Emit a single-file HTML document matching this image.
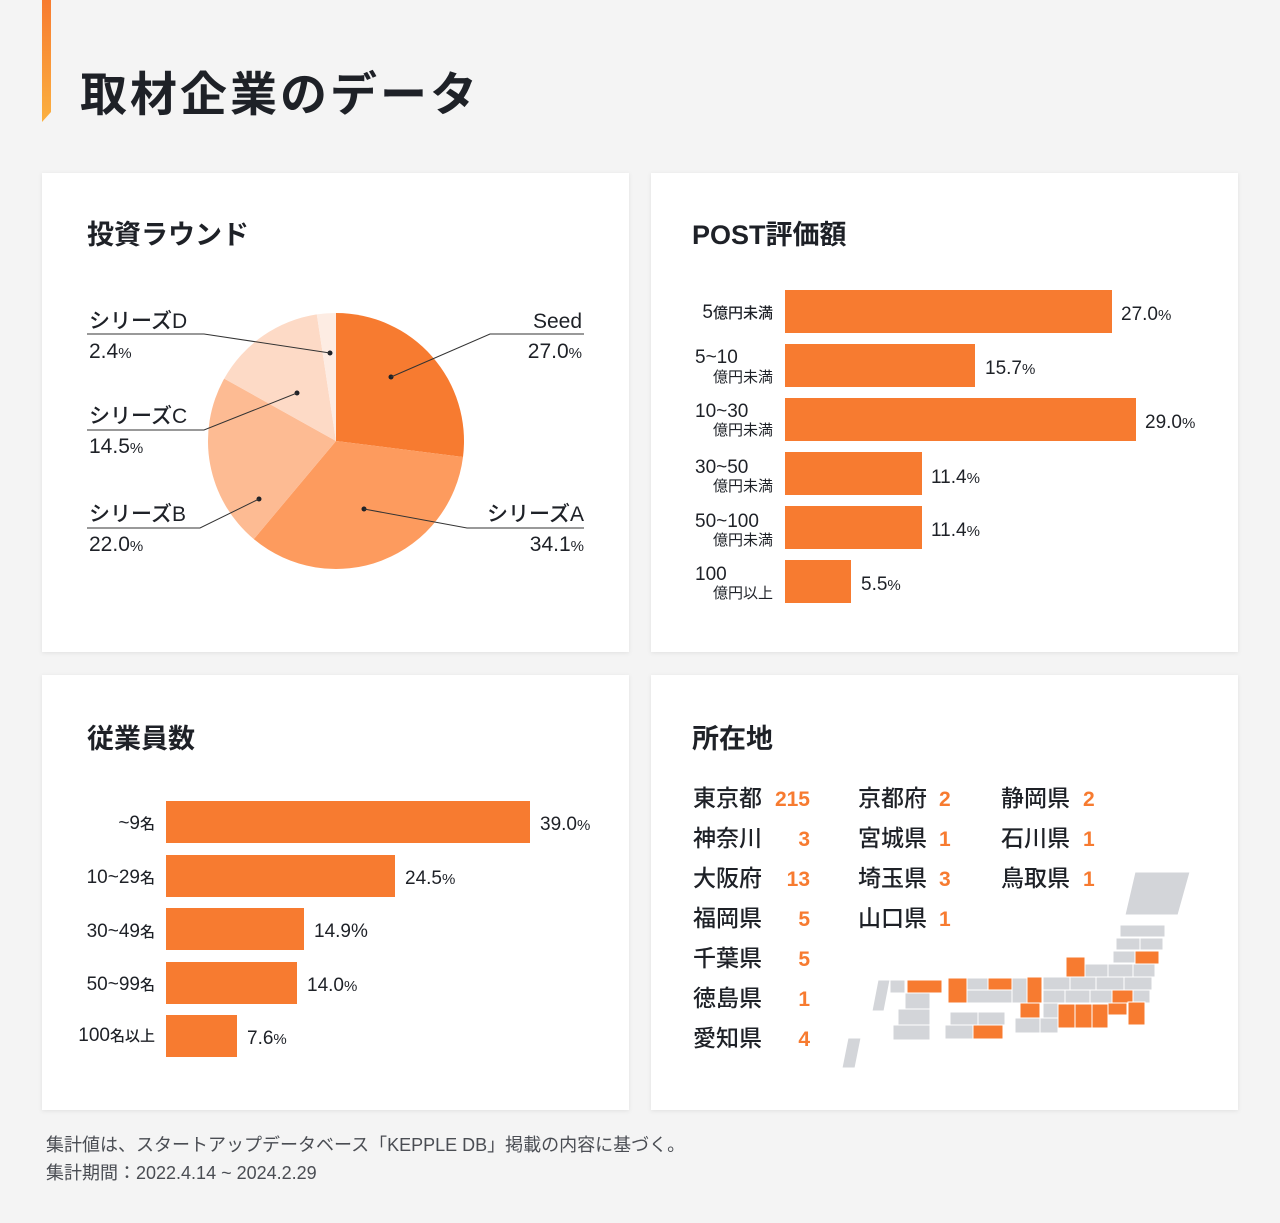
<!DOCTYPE html>
<html><head><meta charset="utf-8"><style>
html,body{margin:0;padding:0;background:#f4f4f4;}
svg{display:block;}
text{font-family:"Liberation Sans","Noto Sans CJK JP",sans-serif;fill:#1e2127;}
.t{font-size:27px;font-weight:700;}
.lb{font-size:19px;font-weight:500;}
.n{font-size:19px;font-weight:500;}
.s{font-size:15px;}
.pl{font-size:21px;font-weight:500;}
.ln{stroke:#333;stroke-width:1;fill:none;}
.gn{fill:#f77b30;font-size:21px;font-weight:700;}
.pn{font-size:23px;font-weight:500;}
</style></head><body>
<svg width="1280" height="1223" viewBox="0 0 1280 1223" xmlns="http://www.w3.org/2000/svg">
<defs>
<linearGradient id="og" x1="0" y1="0" x2="0" y2="1"><stop offset="0" stop-color="#f77b30"/><stop offset="1" stop-color="#fbb040"/></linearGradient>
<filter id="sh" x="-5%" y="-5%" width="110%" height="110%"><feDropShadow dx="0" dy="1" stdDeviation="2" flood-color="#000" flood-opacity="0.08"/></filter>
</defs>
<rect width="1280" height="1223" fill="#f4f4f4"/>
<polygon points="42,0 51,0 51,112 42,122" fill="url(#og)"/>
<text x="80" y="111" style="font-size:47px;font-weight:700;letter-spacing:3px">取材企業のデータ</text>

<g filter="url(#sh)" fill="#fff">
<rect x="42" y="173" width="587" height="479"/>
<rect x="651" y="173" width="587" height="479"/>
<rect x="42" y="675" width="587" height="435"/>
<rect x="651" y="675" width="587" height="435"/>
</g>

<text class="t" x="87" y="244">投資ラウンド</text>
<text class="t" x="692" y="244">POST評価額</text>
<text class="t" x="87" y="748">従業員数</text>
<text class="t" x="692" y="748">所在地</text>

<path d="M336,441 L336,313 A128,128 0 0 1 463.0,457.0 Z" fill="#f77b30"/>
<path d="M336,441 L463.0,457.0 A128,128 0 0 1 253.8,539.1 Z" fill="#fd9b5e"/>
<path d="M336,441 L253.8,539.1 A128,128 0 0 1 224.2,378.6 Z" fill="#fdbb93"/>
<path d="M336,441 L224.2,378.6 A128,128 0 0 1 316.8,314.4 Z" fill="#fddac6"/>
<path d="M336,441 L316.8,314.4 A128,128 0 0 1 336,313 Z" fill="#fdece3"/>
<g fill="#1e2127">
<circle cx="391" cy="377" r="2.5"/><circle cx="364" cy="509" r="2.5"/><circle cx="259" cy="499" r="2.5"/><circle cx="297" cy="393" r="2.5"/><circle cx="330" cy="353" r="2.5"/>
</g>
<polyline class="ln" points="87,334 204,334 330,353"/>
<polyline class="ln" points="87,430 204,430 297,393"/>
<polyline class="ln" points="87,528 200,528 259,499"/>
<polyline class="ln" points="584,334 490,334 391,377"/>
<polyline class="ln" points="584,528 467,528 364,509"/>
<text class="pl" x="89" y="328">シリーズD</text>
<text class="pl" x="89" y="358">2.4<tspan font-size="15">%</tspan></text>
<text class="pl" x="89" y="423">シリーズC</text>
<text class="pl" x="89" y="453">14.5<tspan font-size="15">%</tspan></text>
<text class="pl" x="89" y="521">シリーズB</text>
<text class="pl" x="89" y="551">22.0<tspan font-size="15">%</tspan></text>
<text class="pl" x="582" y="328" text-anchor="end">Seed</text>
<text class="pl" x="582" y="358" text-anchor="end">27.0<tspan font-size="15">%</tspan></text>
<text class="pl" x="584" y="521" text-anchor="end">シリーズA</text>
<text class="pl" x="584" y="551" text-anchor="end">34.1<tspan font-size="15">%</tspan></text>

<g fill="#f77b30">
<rect x="785" y="290" width="327" height="43"/>
<rect x="785" y="344" width="190" height="43"/>
<rect x="785" y="398" width="351" height="43"/>
<rect x="785" y="452" width="137" height="43"/>
<rect x="785" y="506" width="137" height="43"/>
<rect x="785" y="560" width="66" height="43"/>
</g>
<text class="n" x="1121" y="320">27.0<tspan font-size="15">%</tspan></text>
<text class="n" x="985" y="374">15.7<tspan font-size="15">%</tspan></text>
<text class="n" x="1145" y="428">29.0<tspan font-size="15">%</tspan></text>
<text class="n" x="931" y="483">11.4<tspan font-size="15">%</tspan></text>
<text class="n" x="931" y="536">11.4<tspan font-size="15">%</tspan></text>
<text class="n" x="861" y="590">5.5<tspan font-size="15">%</tspan></text>
<text class="n" x="773" y="318" text-anchor="end">5<tspan class="s">億円未満</tspan></text>
<text class="n" x="695" y="363">5~10</text><text class="s" x="773" y="382" text-anchor="end">億円未満</text>
<text class="n" x="695" y="417">10~30</text><text class="s" x="773" y="435" text-anchor="end">億円未満</text>
<text class="n" x="695" y="473">30~50</text><text class="s" x="773" y="491" text-anchor="end">億円未満</text>
<text class="n" x="695" y="527">50~100</text><text class="s" x="773" y="545" text-anchor="end">億円未満</text>
<text class="n" x="695" y="580">100</text><text class="s" x="773" y="598" text-anchor="end">億円以上</text>

<g fill="#f77b30">
<rect x="166" y="801" width="364" height="42"/>
<rect x="166" y="855" width="229" height="42"/>
<rect x="166" y="908" width="138" height="42"/>
<rect x="166" y="962" width="131" height="42"/>
<rect x="166" y="1015" width="71" height="42"/>
</g>
<text class="n" x="540" y="830">39.0<tspan font-size="15">%</tspan></text>
<text class="n" x="405" y="884">24.5<tspan font-size="15">%</tspan></text>
<text class="n" x="314" y="937">14.9%</text>
<text class="n" x="307" y="991">14.0<tspan font-size="15">%</tspan></text>
<text class="n" x="247" y="1044">7.6<tspan font-size="15">%</tspan></text>
<text class="n" x="155" y="829" text-anchor="end">~9<tspan class="s">名</tspan></text>
<text class="n" x="155" y="883" text-anchor="end">10~29<tspan class="s">名</tspan></text>
<text class="n" x="155" y="937" text-anchor="end">30~49<tspan class="s">名</tspan></text>
<text class="n" x="155" y="990" text-anchor="end">50~99<tspan class="s">名</tspan></text>
<text class="n" x="155" y="1041" text-anchor="end">100<tspan class="s">名以上</tspan></text>

<text class="pn" x="693" y="806">東京都</text><text class="pn" x="693" y="846">神奈川</text><text class="pn" x="693" y="886">大阪府</text><text class="pn" x="693" y="926">福岡県</text><text class="pn" x="693" y="966">千葉県</text><text class="pn" x="693" y="1006">徳島県</text><text class="pn" x="693" y="1046">愛知県</text>
<text class="pn" x="858" y="806">京都府</text><text class="pn" x="858" y="846">宮城県</text><text class="pn" x="858" y="886">埼玉県</text><text class="pn" x="858" y="926">山口県</text>
<text class="pn" x="1001" y="806">静岡県</text><text class="pn" x="1001" y="846">石川県</text><text class="pn" x="1001" y="886">鳥取県</text>
<g text-anchor="end">
<text class="gn" x="810" y="806">215</text><text class="gn" x="810" y="846">3</text><text class="gn" x="810" y="886">13</text><text class="gn" x="810" y="926">5</text><text class="gn" x="810" y="966">5</text><text class="gn" x="810" y="1006">1</text><text class="gn" x="810" y="1046">4</text>
</g>
<text class="gn" x="939" y="806">2</text><text class="gn" x="939" y="846">1</text><text class="gn" x="939" y="886">3</text><text class="gn" x="939" y="926">1</text>
<text class="gn" x="1083" y="806">2</text><text class="gn" x="1083" y="846">1</text><text class="gn" x="1083" y="886">1</text>

<g stroke="#fff" stroke-width="1">
<polygon points="1135,872 1190,872 1178,915 1125,915" fill="#d3d5d9"/>
<g fill="#d3d5d9">
<rect x="1120" y="925" width="45" height="12"/>
<rect x="1116" y="938" width="24" height="12"/><rect x="1140" y="938" width="23" height="12"/>
<rect x="1113" y="951" width="22" height="12"/>
<rect x="1085" y="964" width="23" height="13"/><rect x="1108" y="964" width="25" height="13"/><rect x="1133" y="964" width="22" height="13"/>
<rect x="1043" y="977" width="27" height="13"/><rect x="1070" y="977" width="26" height="13"/><rect x="1096" y="977" width="28" height="13"/><rect x="1124" y="977" width="28" height="13"/>
<rect x="1043" y="990" width="22" height="13"/><rect x="1065" y="990" width="25" height="13"/><rect x="1090" y="990" width="22" height="13"/><rect x="1133" y="990" width="17" height="13"/>
<rect x="1043" y="1003" width="15" height="15"/><rect x="1015" y="1018" width="28" height="15"/><rect x="1040" y="1018" width="18" height="15"/>
<rect x="967" y="978" width="21" height="12"/><rect x="1012" y="978" width="15" height="25"/><rect x="967" y="990" width="45" height="13"/>
<rect x="950" y="1012" width="28" height="13"/><rect x="978" y="1012" width="27" height="13"/><rect x="945" y="1025" width="28" height="14"/>
<polygon points="878,980 890,980 884,1011 872,1011"/>
<rect x="890" y="980" width="15" height="13"/>
<rect x="905" y="993" width="25" height="16"/><rect x="898" y="1009" width="32" height="16"/><rect x="893" y="1025" width="37" height="15"/>
<polygon points="848,1038 861,1038 855,1068 842,1068"/>
</g>
<g fill="#f77b30">
<rect x="1135" y="951" width="24" height="13"/>
<rect x="1066" y="957" width="19" height="20"/>
<rect x="1027" y="977" width="15" height="26"/>
<rect x="1112" y="990" width="21" height="13"/>
<rect x="1020" y="1003" width="20" height="15"/>
<rect x="1058" y="1004" width="17" height="24"/><rect x="1075" y="1004" width="17" height="24"/><rect x="1092" y="1004" width="16" height="24"/>
<rect x="1108" y="1003" width="19" height="12"/>
<rect x="1128" y="1002" width="17" height="23"/>
<rect x="948" y="978" width="19" height="25"/>
<rect x="988" y="978" width="24" height="12"/>
<rect x="907" y="980" width="35" height="13"/>
<rect x="973" y="1025" width="30" height="14"/>
</g>
</g>

<text x="46" y="1151" style="font-size:18px;fill:#4a4d53">集計値は、スタートアップデータベース「KEPPLE DB」掲載の内容に基づく。</text>
<text x="46" y="1179" style="font-size:18px;fill:#4a4d53">集計期間：2022.4.14 ~ 2024.2.29</text>
</svg>
</body></html>
